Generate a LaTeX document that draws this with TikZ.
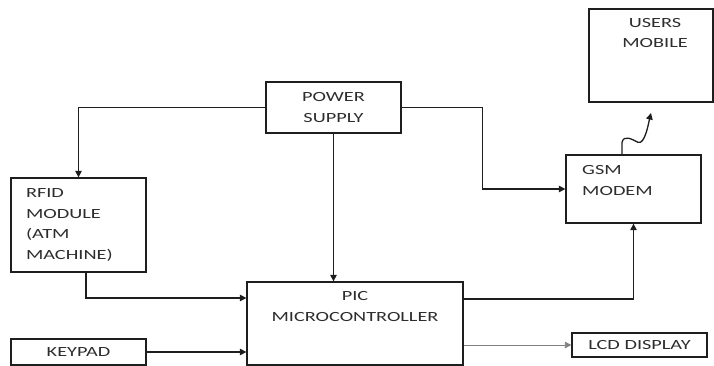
\documentclass[tikz,border=0pt]{standalone}
\usepackage{fontspec}
\setmainfont{Carlito}[FakeStretch=1.45]
\usepackage{tikz}
\usetikzlibrary{arrows.meta, positioning, calc}
\definecolor{lineGray}{RGB}{30, 30, 30}
\definecolor{textGray}{RGB}{45, 45, 45}

\begin{document}
\begin{tikzpicture}[
    x=1pt, y=-1pt,
    every node/.style={font=\fontsize{14}{20.5}\selectfont, text=textGray},
    block/.style={rectangle, draw=lineGray, line width=1.3pt, inner sep=0pt, align=center},
    boxtext/.style={inner sep=0pt, align=center},
    arrow/.style={-{Triangle[length=6.5pt, width=6.5pt]}, line width=1.3pt, draw=lineGray},
    thinarrow/.style={arrow, line width=0.8pt, draw=gray}
]
\useasboundingbox (0,0) rectangle (714,366);

% Top row
\node[block, minimum width=135, minimum height=51] (power) at (333.5,107.5) {POWER\\SUPPLY};
\node[block, minimum width=124, minimum height=93] (users) at (651,55.5) {};
\node[boxtext] (userstext) at (655,33) {USERS\\MOBILE};

% Left column
\node[block, minimum width=135, minimum height=94, text width=105, inner xsep=15pt, align=left] (rfid) at (78.5,225) {RFID\\MODULE\\(ATM\\MACHINE)};
\node[block, minimum width=135, minimum height=26] (keypad) at (78.5,352) {KEYPAD};

% Controller
\node[block, minimum width=216, minimum height=83] (pic) at (355,323.5) {};
\node[boxtext] (pictext) at (355,306.5) {PIC\\MICROCONTROLLER};

% Right column
\node[block, minimum width=135, minimum height=68] (gsm) at (633.5,189) {};
\node[boxtext, anchor=west, align=left] (gsmtext) at (582,180.5) {GSM\\MODEM};
\node[block, minimum width=135, minimum height=24] (lcd) at (639.5,345) {LCD DISPLAY};

% Power lines
\draw[arrow] (power.west) -| (rfid.north);
\draw[arrow] (power.south) -- (power.south |- pic.north);
\draw[arrow] (power.east) -- ++(81,0) |- (gsm.west);

% Inputs to controller
\draw[arrow] ([xshift=7.5pt]rfid.south) |- ([yshift=25.5pt]pic.west);
\draw[arrow] (keypad.east) -- (keypad.east -| pic.west);

% Outputs
\draw[arrow] ([yshift=24.5pt]pic.east) -| (gsm.south);
\draw[thinarrow] (lcd.west -| pic.east) -- (lcd.west);

% Wireless link
\coordinate (wavetip) at (651,113);
\draw[arrow] ([xshift=-11.5pt]gsm.north) -- ++(0,-12)
    .. controls ++(2,-8) and ++(-6,-3) .. ++(16,0)
    .. controls ++(7,3) and ++(-2,8) .. (wavetip);

\end{tikzpicture}
\end{document}
